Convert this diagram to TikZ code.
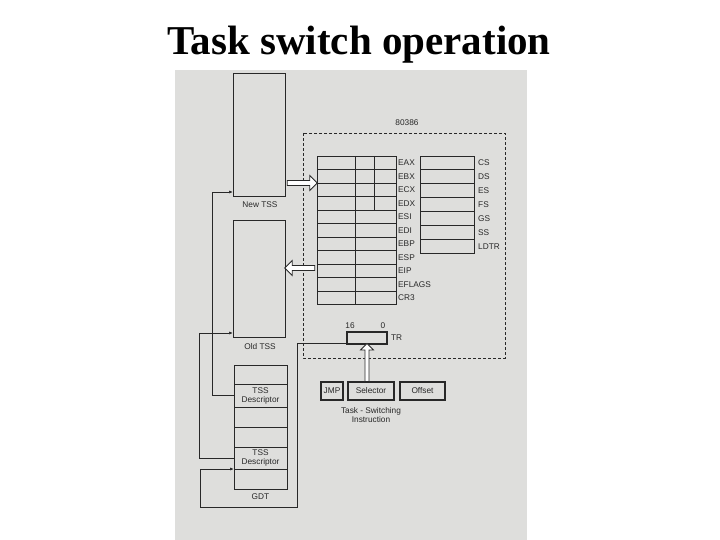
\documentclass[tikz,border=0pt]{standalone}
\usepackage{fontspec}
\setmainfont{Liberation Serif}
\newfontfamily\labfont{Liberation Sans}
\usetikzlibrary{shapes.arrows,arrows.meta}
\definecolor{page}{RGB}{222,222,220}
\definecolor{ink}{RGB}{40,40,40}
\tikzset{
  box/.style={draw=ink,line width=0.9pt},
  thickbox/.style={draw=ink,line width=1.6pt},
  lab/.style={font=\labfont\fontsize{8.3}{9}\selectfont,text=ink,inner sep=1pt},
  wire/.style={draw=ink,line width=0.7pt},
  hollow/.style={single arrow,draw=ink,line width=0.8pt,fill=white,minimum height=30pt,
    minimum width=15pt,single arrow head extend=4pt,inner sep=1.5pt},
}
\begin{document}
\begin{tikzpicture}[x=1pt,y=-1pt]
  \def\rx{317}; \def\rxx{396};
  \def\ry{156}; \def\rh{13.5};
  \def\sx{420}; \def\sxx{474}; \def\sh{13.9};
  \useasboundingbox (0,0) rectangle (720,540);
  \fill[white] (0,0) rectangle (720,540);
  \fill[page] (175,70) rectangle (527,545);
  \node[font=\bfseries\fontsize{41}{44}\selectfont] (title) at (359,45) {Task switch operation};
  % 80386
  \draw[ink,densely dashed,line width=0.5pt] (303,133) rectangle (505,358);
  \node[lab] (cpu) at (407,123) {80386};
  % general registers
  \foreach \n [count=\i from 0] in {EAX,EBX,ECX,EDX,ESI,EDI,EBP,ESP,EIP,EFLAGS,CR3}{
    \draw[box] (\rx,\ry+\i*\rh) rectangle (\rxx,\ry+\i*\rh+\rh);
    \node[lab,anchor=west] (r\i) at (\rxx+1,\ry+\i*\rh+\rh/2) {\n};
  }
  \draw[box] (355,\ry) -- (355,\ry+11*\rh);
  \draw[box] (374,\ry) -- (374,\ry+4*\rh);
  % segment registers
  \foreach \n [count=\i from 0] in {CS,DS,ES,FS,GS,SS,LDTR}{
    \draw[box] (\sx,\ry+\i*\sh) rectangle (\sxx,\ry+\i*\sh+\sh);
    \node[lab,anchor=west] (s\i) at (\sxx+3,\ry+\i*\sh+\sh/2) {\n};
  }
  % TR
  \node[thickbox,minimum width=40pt,minimum height=12pt,inner sep=0pt] (tr) at (367,338) {};
  \node[lab] (hi) at (350,326) {16};
  \node[lab] (lo) at (383,326) {0};
  \node[lab,anchor=west] (trl) at ([xshift=2pt]tr.east) {TR};
  % TSS
  \draw[box] (233,73) rectangle (285,196);
  \node[lab] (newl) at (260,205) {New TSS};
  \draw[box] (233,220) rectangle (285,337);
  \node[lab] (oldl) at (260,347) {Old TSS};
  \coordinate (newin) at (233,192);
  \coordinate (oldin) at (233,333);
  % GDT
  \foreach \a/\b in {365/384,384/407,407/427,427/447,447/469,469/489}
    \draw[box] (234,\a) rectangle (287,\b);
  \node[lab,align=center] (d1) at (260.5,395.5) {TSS\\Descriptor};
  \node[lab,align=center] (d2) at (260.5,458) {TSS\\Descriptor};
  \node[lab] (gdt) at (260.5,497) {GDT};
  \coordinate (gdtin) at (234,469);
  % instruction
  \node[thickbox,lab,minimum width=22pt,minimum height=18pt] (jmp) at (332,391) {JMP};
  \node[thickbox,lab,minimum width=46pt,minimum height=18pt] (sel) at (371,391) {Selector};
  \node[thickbox,lab,minimum width=45pt,minimum height=18pt] (off) at (422.5,391) {Offset};
  \node[lab,align=center] (ins) at (371,415) {Task - Switching\\Instruction};
  % block arrows
  \node[hollow] (toreg) at (301,183) {};
  \node[hollow,shape border rotate=180] (toold) at (301,268) {};
  \node[hollow,shape border rotate=90,minimum height=38pt,minimum width=13pt] (totr)
    at (367,363.5) {};
  % links
  \draw[wire,-{Latex[length=4pt,width=3pt]}] (d1.west-|234,393) -- ++(-22,0) |- (newin);
  \draw[wire,-{Latex[length=4pt,width=3pt]}] (d2.west-|234,456) -- ++(-35,0) |- (oldin);
  \draw[wire,-{Latex[length=4pt,width=3pt]}] (tr.west|-0,343) -| (297,507) -| (200,469) -- (gdtin);
\end{tikzpicture}
\end{document}
